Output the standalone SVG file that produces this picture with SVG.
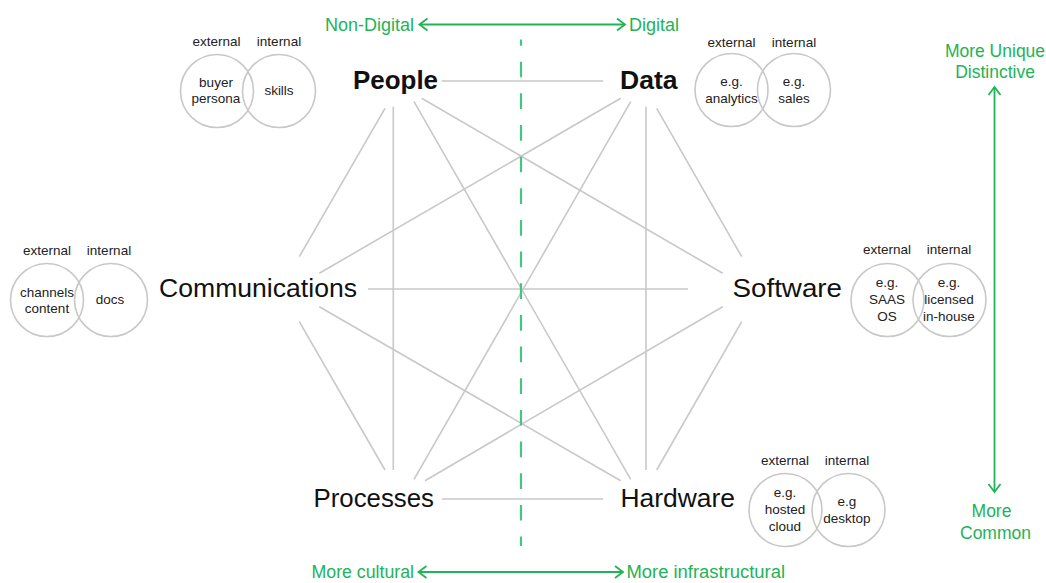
<svg xmlns="http://www.w3.org/2000/svg" width="1046" height="583" viewBox="0 0 1046 583">
<defs>
<style>
.lbl{font-family:"Liberation Sans",Arial,sans-serif;font-size:26.5px;fill:#111}
.b{font-weight:bold}
.sm{font-family:"Liberation Sans",Arial,sans-serif;font-size:13.5px;fill:#222;text-anchor:middle}
.gt{font-family:"Liberation Sans",Arial,sans-serif;font-size:17.5px;fill:#22b357}
.mid{text-anchor:middle}
.edge{stroke:#c8c8c8;stroke-width:1.6;fill:none}
.venn{stroke:#c8c8c8;stroke-width:1.6;fill:none}
.axis{stroke:#22b357;stroke-width:1.8;fill:none}
</style>
<marker id="chev" markerUnits="userSpaceOnUse" markerWidth="14" markerHeight="16" refX="9" refY="7" orient="auto-start-reverse">
<path d="M1,1 L9,7 L1,13" fill="none" stroke="#22b357" stroke-width="1.8"/>
</marker>
</defs>
<rect width="1046" height="583" fill="#ffffff"/>

<g id="connectors">
<line class="edge" x1="441.7" y1="81" x2="603.3" y2="81"/>
<line class="edge" x1="385" y1="108.3" x2="299.3" y2="256.7"/>
<line class="edge" x1="393.3" y1="106.7" x2="393.3" y2="470"/>
<line class="edge" x1="414" y1="101.7" x2="630.7" y2="479.3"/>
<line class="edge" x1="421.7" y1="98.3" x2="722.7" y2="273.3"/>
<line class="edge" x1="620.7" y1="98.3" x2="319.3" y2="273.3"/>
<line class="edge" x1="630.7" y1="101.7" x2="414" y2="479.3"/>
<line class="edge" x1="656.7" y1="108.3" x2="741.7" y2="256.7"/>
<line class="edge" x1="646" y1="106.7" x2="646" y2="470"/>
<line class="edge" x1="368" y1="289" x2="688" y2="289"/>
<line class="edge" x1="299.3" y1="321.7" x2="385" y2="470"/>
<line class="edge" x1="319.3" y1="306.7" x2="620.7" y2="480.7"/>
<line class="edge" x1="722.7" y1="306.7" x2="425" y2="480.7"/>
<line class="edge" x1="741.7" y1="321.7" x2="656.7" y2="470"/>
<line class="edge" x1="442" y1="499" x2="603" y2="499"/>
</g>

<g id="axes">
<line x1="521" y1="39.5" x2="521" y2="546" stroke="#45c486" stroke-width="2.2" stroke-dasharray="15.7 15.96" stroke-dashoffset="9.5"/>
<line class="axis" x1="419.5" y1="24.5" x2="625" y2="24.5" marker-start="url(#chev)" marker-end="url(#chev)"/>
<text class="gt" x="325" y="31" textLength="89" lengthAdjust="spacingAndGlyphs">Non-Digital</text>
<text class="gt" x="629" y="31" textLength="50" lengthAdjust="spacingAndGlyphs">Digital</text>
<line class="axis" x1="418.5" y1="572" x2="623" y2="572" marker-start="url(#chev)" marker-end="url(#chev)"/>
<text class="gt" x="311.5" y="577.5" textLength="102.5" lengthAdjust="spacingAndGlyphs">More cultural</text>
<text class="gt" x="626.5" y="577.5" textLength="158.5" lengthAdjust="spacingAndGlyphs">More infrastructural</text>
<line class="axis" x1="994.5" y1="87" x2="994.5" y2="492" marker-start="url(#chev)" marker-end="url(#chev)"/>
<text class="gt mid" x="995" y="57">More Unique</text>
<text class="gt mid" x="995" y="78">Distinctive</text>
<text class="gt mid" x="991.5" y="517">More</text>
<text class="gt mid" x="995.5" y="539">Common</text>
</g>

<g id="node-people">
<text class="lbl b" x="353" y="89" textLength="85" lengthAdjust="spacingAndGlyphs">People</text>
<circle class="venn" cx="217" cy="91" r="36.5"/>
<circle class="venn" cx="279" cy="91" r="36.5"/>
<text class="sm" x="216.5" y="46">external</text>
<text class="sm" x="279" y="46">internal</text>
<text class="sm" x="216" y="87">buyer</text>
<text class="sm" x="216" y="103">persona</text>
<text class="sm" x="279" y="95">skills</text>
</g>

<g id="node-data">
<text class="lbl b" x="620" y="89" textLength="57.5" lengthAdjust="spacingAndGlyphs">Data</text>
<circle class="venn" cx="731.5" cy="90" r="36.5"/>
<circle class="venn" cx="794" cy="90" r="36.5"/>
<text class="sm" x="731.5" y="47">external</text>
<text class="sm" x="794" y="47">internal</text>
<text class="sm" x="731.5" y="86">e.g.</text>
<text class="sm" x="731.5" y="103">analytics</text>
<text class="sm" x="794" y="86">e.g.</text>
<text class="sm" x="794" y="103">sales</text>
</g>

<g id="node-communications">
<text class="lbl" x="159" y="297" textLength="198" lengthAdjust="spacingAndGlyphs">Communications</text>
<circle class="venn" cx="47" cy="300" r="36.5"/>
<circle class="venn" cx="111" cy="300" r="36.5"/>
<text class="sm" x="47" y="255">external</text>
<text class="sm" x="109" y="255">internal</text>
<text class="sm" x="47" y="297">channels</text>
<text class="sm" x="47" y="313">content</text>
<text class="sm" x="110" y="304">docs</text>
</g>

<g id="node-software">
<text class="lbl" x="732.5" y="297" textLength="109.5" lengthAdjust="spacingAndGlyphs">Software</text>
<circle class="venn" cx="887.5" cy="300" r="36.5"/>
<circle class="venn" cx="949.5" cy="300" r="36.5"/>
<text class="sm" x="887" y="254">external</text>
<text class="sm" x="949" y="254">internal</text>
<text class="sm" x="887" y="287">e.g.</text>
<text class="sm" x="887" y="304">SAAS</text>
<text class="sm" x="887" y="321">OS</text>
<text class="sm" x="949" y="287">e.g.</text>
<text class="sm" x="949" y="304">licensed</text>
<text class="sm" x="949" y="321">in-house</text>
</g>

<g id="node-processes">
<text class="lbl" x="313.5" y="507" textLength="120.5" lengthAdjust="spacingAndGlyphs">Processes</text>
</g>

<g id="node-hardware">
<text class="lbl" x="620.5" y="507" textLength="114.5" lengthAdjust="spacingAndGlyphs">Hardware</text>
<circle class="venn" cx="785.5" cy="510" r="36.5"/>
<circle class="venn" cx="848.5" cy="510" r="36.5"/>
<text class="sm" x="785" y="465">external</text>
<text class="sm" x="847" y="465">internal</text>
<text class="sm" x="785" y="497">e.g.</text>
<text class="sm" x="785" y="514">hosted</text>
<text class="sm" x="785" y="531">cloud</text>
<text class="sm" x="847" y="506">e.g</text>
<text class="sm" x="847" y="523">desktop</text>
</g>
</svg>
